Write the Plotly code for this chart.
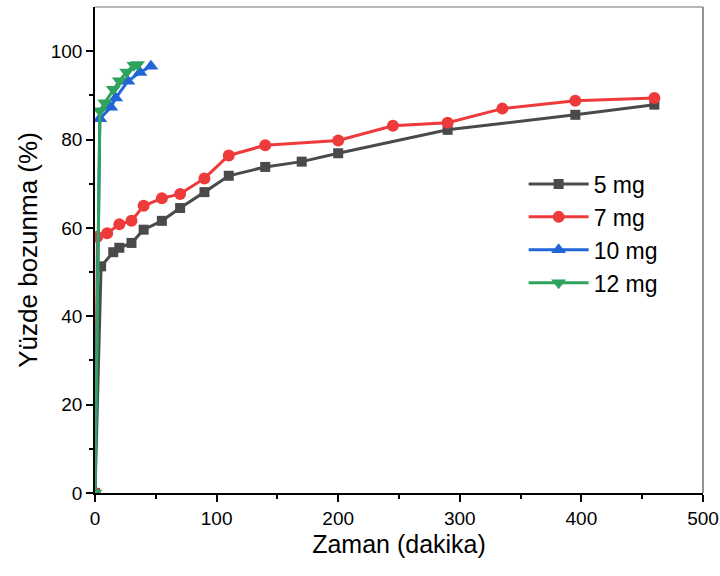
import plotly.graph_objects as go

x5 = [0, 5, 15, 20, 30, 40, 55, 70, 90, 110, 140, 170, 200, 290, 395, 460]
y5 = [0, 51.3, 54.5, 55.5, 56.6, 59.6, 61.6, 64.5, 68.1, 71.8, 73.8, 75.0, 76.9, 82.2, 85.6, 87.9]

x7 = [0, 2, 10, 20, 30, 40, 55, 70, 90, 110, 140, 200, 245, 290, 335, 395, 460]
y7 = [0, 58.0, 58.8, 60.8, 61.6, 65.0, 66.7, 67.7, 71.2, 76.4, 78.7, 79.8, 83.1, 83.8, 87.0, 88.8, 89.4]

x10 = [0, 4, 13, 17, 27, 37, 46]
y10 = [0, 84.7, 87.3, 89.4, 93.2, 95.2, 96.6]

x12 = [0, 4, 8, 15, 20, 26, 32, 35]
y12 = [0, 86.5, 88.3, 91.4, 93.3, 95.3, 96.8, 97.0]

names = ["5 mg", "7 mg", "10 mg", "12 mg"]
colors = ["#4a4a4a", "#ee3a3a", "#2166d6", "#2fa35e"]
symbols = ["square", "circle", "triangle-up", "triangle-down"]
msizes = [10, 12, 13, 13]

fig = go.Figure()
for xs, ys, n, c, s, ms in zip([x5, x7, x10, x12], [y5, y7, y10, y12], names, colors, symbols, msizes):
    fig.add_trace(go.Scatter(
        x=xs, y=ys, name=n, mode="lines+markers",
        line=dict(color=c, width=3),
        marker=dict(symbol=s, size=ms, color=c),
    ))

fig.update_layout(
    width=720, height=576,
    margin=dict(l=95, r=17, t=7, b=83),
    paper_bgcolor="white", plot_bgcolor="white",
    font=dict(family="Liberation Sans, Arial, sans-serif", color="black"),
    legend=dict(
        x=0.705, y=0.68, xanchor="left", yanchor="top",
        font=dict(size=23, color="black"),
        itemwidth=60, tracegroupgap=0,
        bgcolor="rgba(0,0,0,0)",
    ),
)

fig.update_xaxes(
    range=[0, 500], tickvals=[0, 100, 200, 300, 400, 500],
    ticks="outside", ticklen=7, tickwidth=1.5, tickcolor="black",
    minor=dict(tickvals=[50, 150, 250, 350, 450], ticks="outside", ticklen=4, tickcolor="black", tickwidth=1.5),
    showline=True, linecolor="black", linewidth=1.5, mirror=False,
    showgrid=False, zeroline=False, automargin=False,
    tickfont=dict(size=19), ticklabeloverflow="allow",
    title=dict(text="Zaman (dakika)", font=dict(size=25), standoff=8),
)
fig.update_yaxes(
    range=[0, 110], tickvals=[0, 20, 40, 60, 80, 100],
    ticks="outside", ticklen=7, tickwidth=1.5, tickcolor="black",
    minor=dict(tickvals=[10, 30, 50, 70, 90], ticks="outside", ticklen=4, tickcolor="black", tickwidth=1.5),
    showline=True, linecolor="black", linewidth=1.5,
    showgrid=False, zeroline=False, automargin=False,
    tickfont=dict(size=19),
    title=dict(text="Yüzde bozunma (%)", font=dict(size=26), standoff=6),
)

# top and right frame lines (gray)
fig.add_shape(type="line", xref="paper", yref="paper", x0=0, x1=1, y0=1, y1=1,
              line=dict(color="#a0a0a0", width=1.5))
fig.add_shape(type="line", xref="paper", yref="paper", x0=1, x1=1, y0=0, y1=1,
              line=dict(color="#707070", width=1.5))

fig.write_html("out.html")
